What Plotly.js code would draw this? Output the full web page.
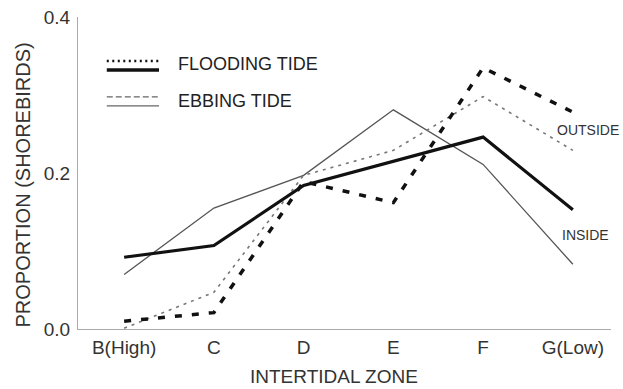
<!DOCTYPE html>
<html><head><meta charset="utf-8">
<script src="https://cdn.plot.ly/plotly-3.0.1.min.js"></script>
<style>html,body{margin:0;padding:0;background:#fff}#c{width:623px;height:389px}</style>
</head><body><div id="c"></div>
<script>
const zones = ["B(High)", "C", "D", "E", "F", "G(Low)"];
const floodOutside = [0.010, 0.021, 0.189, 0.162, 0.335, 0.278];
const floodInside  = [0.092, 0.107, 0.184, 0.215, 0.246, 0.153];
const ebbOutside   = [0.001, 0.047, 0.197, 0.229, 0.298, 0.229];
const ebbInside    = [0.070, 0.155, 0.197, 0.281, 0.211, 0.083];
const yTicks = [0, 0.2, 0.4];
const yTickText = ["0.0", "0.2", "0.4"];

const F = "Liberation Sans, Arial, sans-serif";
const traces = [
  {x: zones, y: ebbInside, mode: "lines", line: {color: "#555", width: 1.3}, name: "Ebbing inside"},
  {x: zones, y: ebbOutside, mode: "lines", line: {color: "#777", width: 1.6, dash: "3px,5px"}, name: "Ebbing outside"},
  {x: zones, y: floodInside, mode: "lines", line: {color: "#111", width: 3.2}, name: "Flooding inside"},
  {x: zones, y: floodOutside, mode: "lines", line: {color: "#111", width: 3.5, dash: "7px,10px"}, name: "Flooding outside"}
];
const layout = {
  width: 623, height: 389,
  margin: {l: 78, r: 12, t: 17, b: 60},
  paper_bgcolor: "#fff", plot_bgcolor: "#fff",
  showlegend: false,
  font: {family: F, color: "#333"},
  xaxis: {
    type: "category", range: [-0.514, 5.425],
    showgrid: false, zeroline: false, showline: true, linecolor: "#aaa", linewidth: 1,
    ticks: "", tickfont: {size: 19, color: "#333"}, ticklabelstandoff: 1
  },
  yaxis: {
    range: [0, 0.4], tickvals: yTicks, ticktext: yTickText,
    showgrid: false, zeroline: false, showline: true, linecolor: "#aaa", linewidth: 1,
    ticks: "", tickfont: {size: 19, color: "#333"}, ticklabelstandoff: 3
  },
  shapes: [
    {type: "line", xref: "paper", yref: "paper", x0: 0.054, x1: 0.152, y0: 0.859, y1: 0.859, line: {color: "#111", width: 2.5, dash: "2px,3.5px"}},
    {type: "line", xref: "paper", yref: "paper", x0: 0.054, x1: 0.152, y0: 0.830, y1: 0.830, line: {color: "#111", width: 3.5}},
    {type: "line", xref: "paper", yref: "paper", x0: 0.054, x1: 0.152, y0: 0.744, y1: 0.744, line: {color: "#666", width: 1.3, dash: "6px,3px"}},
    {type: "line", xref: "paper", yref: "paper", x0: 0.054, x1: 0.152, y0: 0.715, y1: 0.715, line: {color: "#666", width: 1.3}}
  ],
  annotations: [
    {xref: "paper", yref: "paper", x: 0.184, y: 0.849, xanchor: "left", yanchor: "middle", showarrow: false, text: "FLOODING TIDE", font: {size: 18, color: "#222"}},
    {xref: "paper", yref: "paper", x: 0.184, y: 0.731, xanchor: "left", yanchor: "middle", showarrow: false, text: "EBBING TIDE", font: {size: 18, color: "#222"}},
    {xref: "paper", yref: "paper", x: 0.957, y: 0.638, xanchor: "center", yanchor: "middle", showarrow: false, text: "OUTSIDE", font: {size: 14, color: "#333"}},
    {xref: "paper", yref: "paper", x: 0.953, y: 0.301, xanchor: "center", yanchor: "middle", showarrow: false, text: "INSIDE", font: {size: 14, color: "#333"}},
    {xref: "paper", yref: "paper", x: (333.5 - 78) / 533, y: -(377 - 329) / 312, xanchor: "center", yanchor: "middle", showarrow: false, text: "INTERTIDAL ZONE", font: {size: 19, color: "#333"}},
    {xref: "paper", yref: "paper", x: -(78 - 22) / 533, y: (329 - 185.5) / 312, xanchor: "center", yanchor: "middle", textangle: -90, showarrow: false, text: "PROPORTION (SHOREBIRDS)", font: {size: 20, color: "#333"}}
  ]
};
Plotly.newPlot("c", traces, layout, {displayModeBar: false, staticPlot: true});
</script>
</body></html>
